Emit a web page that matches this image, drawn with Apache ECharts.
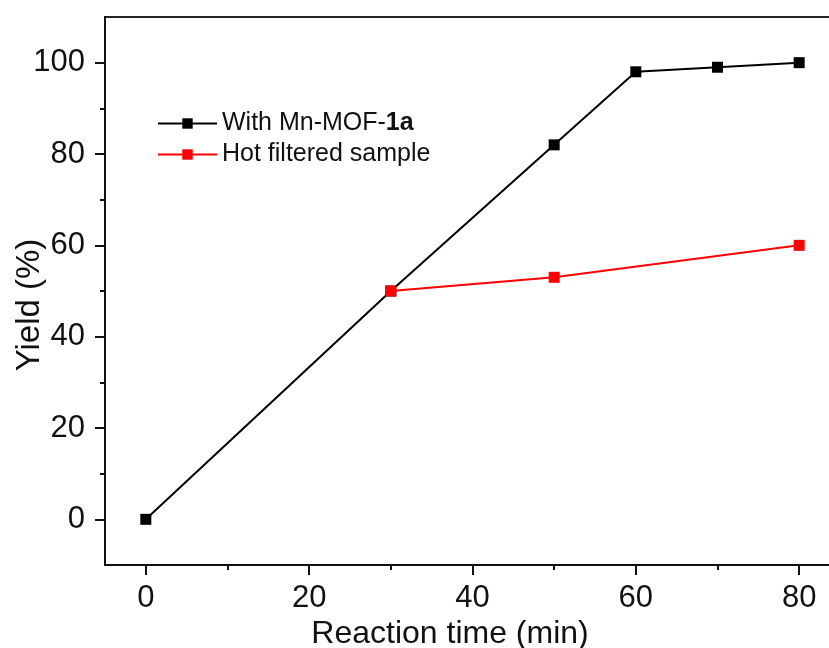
<!DOCTYPE html>
<html>
<head>
<meta charset="utf-8">
<script src="https://cdn.jsdelivr.net/npm/echarts@6/dist/echarts.min.js"></script>
<style>
  html, body { margin: 0; padding: 0; background: #fff; }
  #chart { width: 829px; height: 648px; }
</style>
</head>
<body>
<div id="chart"></div>
<script>
// Reaction time (min) and yield (%) for each run
const timeMnMOF = [0, 30, 50, 60, 70, 80];
const yieldMnMOF = [0, 50, 82, 98, 99, 100];
const timeHotFiltered = [30, 50, 80];
const yieldHotFiltered = [50, 53, 60];

// Axis ticks
const xMajorTicks = [0, 20, 40, 60, 80];
const xMinorTicks = [10, 30, 50, 70];
const yMajorTicks = [0, 20, 40, 60, 80, 100];
const yMinorTicks = [10, 30, 50, 70, 90];

const FONT = '"Liberation Sans", Arial, sans-serif';

const pairs = (xs, ys) => xs.map((x, i) => [x, ys[i]]);

// The plot frame runs a little past the right edge of the canvas
const gridBox = { left: 105, top: 17, width: 735, height: 548, containLabel: false, outerBoundsMode: 'none' };

const chart = echarts.init(document.getElementById('chart'));
chart.setOption({
  animation: false,
  backgroundColor: '#fff',
  grid: [
    Object.assign({ show: true, borderColor: '#222', borderWidth: 2 }, gridBox),
    Object.assign({ show: false }, gridBox)
  ],
  legend: {
    left: 157,
    top: 111,
    padding: 0,
    orient: 'vertical',
    itemWidth: 59,
    itemHeight: 13,
    itemGap: 6,
    textStyle: {
      fontFamily: FONT,
      fontSize: 25,
      color: '#111',
      rich: {
        n: { fontFamily: FONT, fontSize: 25, color: '#111' },
        b: { fontFamily: FONT, fontSize: 25, color: '#111', fontWeight: 'bold' }
      }
    },
    formatter: name => name === 'With Mn-MOF-1a' ? '{n|With Mn-MOF-}{b|1a}' : name,
    data: ['With Mn-MOF-1a', 'Hot filtered sample']
  },
  xAxis: [
    {
      type: 'value', gridIndex: 0, min: -5, max: 85,
      name: 'Reaction time (min)', nameLocation: 'middle', nameGap: 53, nameMoveOverlap: false,
      nameTextStyle: { fontFamily: FONT, fontSize: 32, color: '#111', padding: [0, 45, 0, 0] },
      axisLine: { show: true, onZero: false, lineStyle: { color: '#111', width: 2 } },
      axisTick: { show: true, customValues: xMajorTicks, length: 10, inside: false, lineStyle: { color: '#111', width: 2 } },
      axisLabel: { customValues: xMajorTicks, margin: 18, fontFamily: FONT, fontSize: 31, color: '#111' },
      splitLine: { show: false }
    },
    {
      type: 'value', gridIndex: 1, min: -5, max: 85,
      axisLine: { show: false, onZero: false },
      axisTick: { show: true, customValues: xMinorTicks, length: 5, lineStyle: { color: '#111', width: 2 } },
      axisLabel: { show: false },
      splitLine: { show: false }
    }
  ],
  yAxis: [
    {
      type: 'value', gridIndex: 0, min: -10, max: 110,
      name: 'Yield (%)', nameLocation: 'middle', nameGap: 59, nameMoveOverlap: false,
      nameTextStyle: { fontFamily: FONT, fontSize: 33, color: '#111', padding: [0, 28, 0, 0] },
      axisLine: { show: true, onZero: false, lineStyle: { color: '#111', width: 2 } },
      axisTick: { show: true, customValues: yMajorTicks, length: 10, inside: false, lineStyle: { color: '#111', width: 2 } },
      axisLabel: { customValues: yMajorTicks, margin: 20, fontFamily: FONT, fontSize: 31, color: '#111' },
      splitLine: { show: false }
    },
    {
      type: 'value', gridIndex: 1, min: -10, max: 110,
      axisLine: { show: false, onZero: false },
      axisTick: { show: true, customValues: yMinorTicks, length: 5, lineStyle: { color: '#111', width: 2 } },
      axisLabel: { show: false },
      splitLine: { show: false }
    }
  ],
  series: [
    {
      name: 'With Mn-MOF-1a',
      type: 'line',
      xAxisIndex: 0, yAxisIndex: 0,
      data: pairs(timeMnMOF, yieldMnMOF),
      symbol: 'rect', symbolSize: 11,
      lineStyle: { color: '#000', width: 2 },
      itemStyle: { color: '#000' },
      z: 2
    },
    {
      name: 'Hot filtered sample',
      type: 'line',
      xAxisIndex: 0, yAxisIndex: 0,
      data: pairs(timeHotFiltered, yieldHotFiltered),
      symbol: 'rect', symbolSize: 11,
      lineStyle: { color: '#f00', width: 2 },
      itemStyle: { color: '#f00' },
      z: 3
    }
  ]
});
</script>
</body>
</html>
